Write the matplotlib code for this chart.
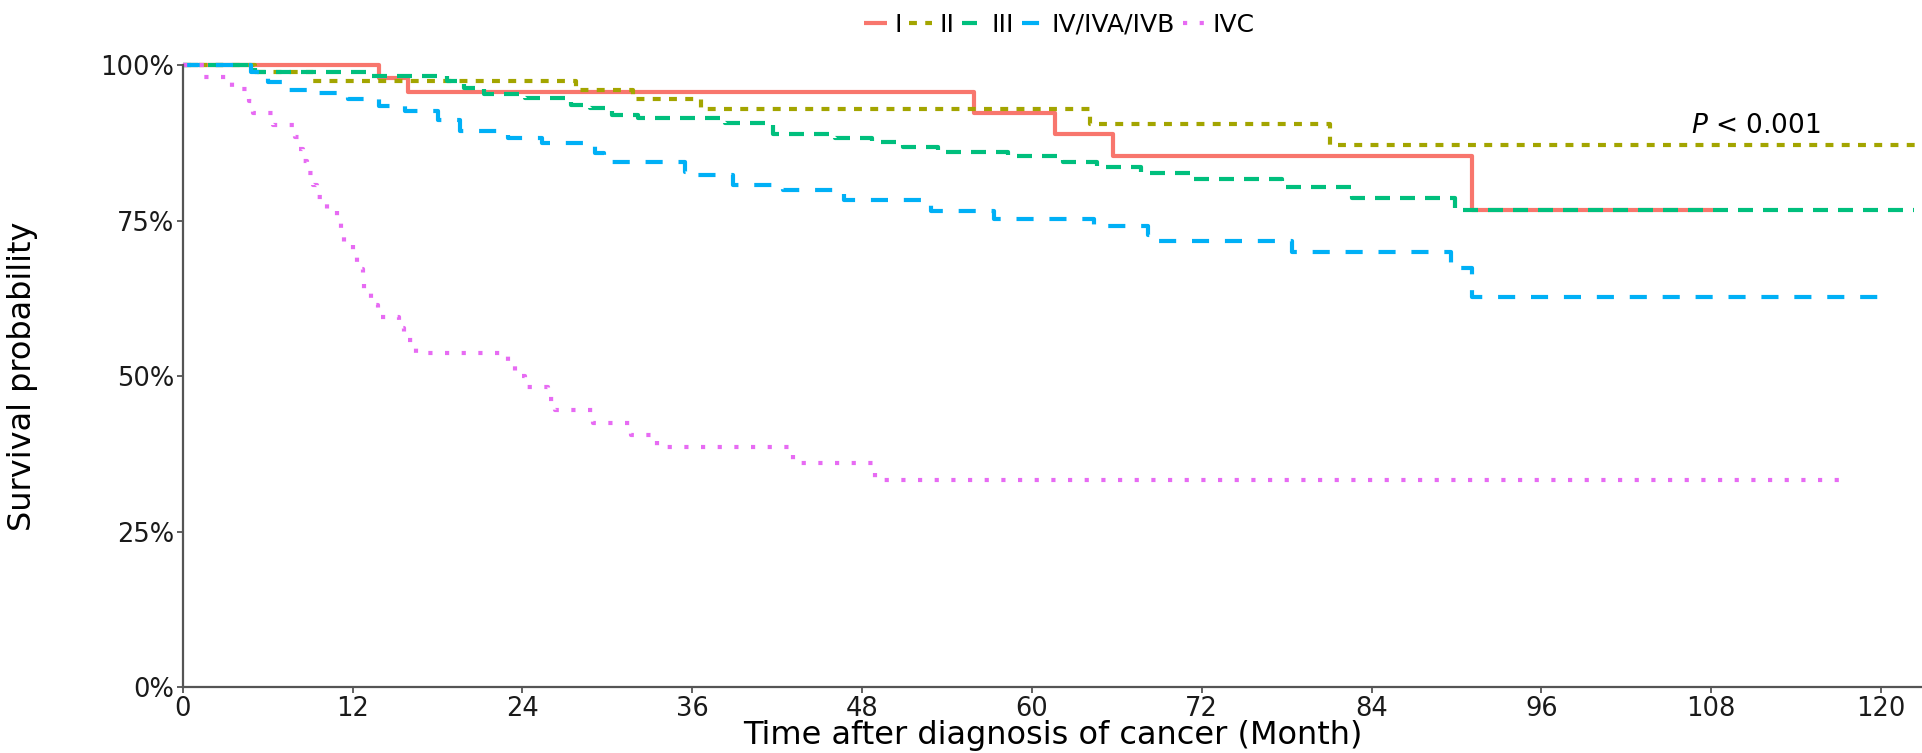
import matplotlib
matplotlib.use("Agg")
import matplotlib.pyplot as plt
from matplotlib.ticker import PercentFormatter


# Kaplan-Meier estimates by stage: event times (months) and survival after each step
stage_labels = ['I', 'II', 'III', 'IV/IVA/IVB', 'IVC']

t_I = [0, 13.9, 15.9, 55.9, 61.6, 65.7, 91.1]
s_I = [1.0, 0.979, 0.957, 0.924, 0.889, 0.854, 0.768]
end_I = 108.1

t_II = [0, 5.1, 9.2, 27.8, 31.8, 36.6, 64.1, 81.1]
s_II = [1.0, 0.990, 0.974, 0.961, 0.946, 0.930, 0.906, 0.872]
end_II = 122.9

t_III = [0, 5.1, 13.3, 18.7, 19.9, 21.3, 24.2, 27.4, 28.8, 30.3, 32.2, 38.3,
         41.7, 46.1, 48.7, 50.9, 53.4, 58.3, 62.2, 64.6, 67.7, 71.2, 77.7,
         82.6, 89.9]
s_III = [1.0, 0.989, 0.982, 0.974, 0.963, 0.954, 0.947, 0.936, 0.931, 0.920,
         0.915, 0.908, 0.890, 0.883, 0.876, 0.869, 0.861, 0.854, 0.845, 0.836,
         0.827, 0.817, 0.805, 0.787, 0.768]
end_III = 122.3

t_IV = [0, 4.8, 6.0, 7.4, 9.0, 11.7, 13.9, 15.7, 18.0, 19.6, 23.0, 25.4, 29.1,
        29.8, 35.5, 36.2, 38.9, 42.4, 46.7, 52.9, 57.3, 64.4, 68.2, 68.8, 78.4,
        89.6, 91.1]
s_IV = [1.0, 0.990, 0.973, 0.961, 0.956, 0.945, 0.934, 0.926, 0.912, 0.895,
        0.883, 0.875, 0.859, 0.844, 0.829, 0.823, 0.808, 0.800, 0.784, 0.765,
        0.753, 0.741, 0.727, 0.717, 0.700, 0.674, 0.628]
end_IV = 120.0

t_IVC = [0, 1.5, 3.5, 4.65, 4.95, 6.4, 7.9, 8.2, 8.5, 8.8, 9.2, 9.5, 10.2, 10.9,
         11.2, 11.4, 12.0, 12.3, 12.7, 12.8, 13.3, 13.8, 15.3, 15.6, 16.5, 23.0,
         23.5, 24.2, 25.8, 26.3, 29.0, 31.7, 33.5, 43.1, 48.9]
s_IVC = [1.0, 0.981, 0.962, 0.942, 0.923, 0.904, 0.885, 0.865, 0.846, 0.827,
         0.808, 0.788, 0.769, 0.750, 0.731, 0.712, 0.692, 0.673, 0.654, 0.635,
         0.615, 0.596, 0.577, 0.558, 0.538, 0.519, 0.500, 0.482, 0.464, 0.445,
         0.425, 0.406, 0.386, 0.360, 0.333]
end_IVC = 117.0

curves = [(t_I, s_I, end_I), (t_II, s_II, end_II), (t_III, s_III, end_III),
          (t_IV, s_IV, end_IV), (t_IVC, s_IVC, end_IVC)]
colors = ['#F8766D', '#A3A500', '#00BF7D', '#00B0F6', '#E76BF3']
# on/off lengths in units of line width
dashes = [None, (1.9, 2.0), (3.6, 2.4), (4.1, 3.8), (1.0, 3.0)]

fig = plt.figure(figsize=(19.22, 7.53), dpi=100)
ax = fig.add_axes([0.0951, 0.0873, 0.9049, 0.826])

for (t, s, end), col, dsh, lab in zip(curves, colors, dashes, stage_labels):
    line, = ax.step(t + [end], s + [s[-1]], where='post', color=col, lw=3.0,
                    label=lab, clip_on=False, solid_capstyle='butt',
                    dash_capstyle='butt')
    if dsh is not None:
        line.set_dashes(dsh)

ax.set_xlim(0, 122.9)
ax.set_ylim(0, 1.0)
ax.set_xticks(range(0, 121, 12))
ax.set_yticks([0, 0.25, 0.5, 0.75, 1.0])
ax.yaxis.set_major_formatter(PercentFormatter(xmax=1, decimals=0))

for side in ['top', 'right']:
    ax.spines[side].set_visible(False)
for side in ['left', 'bottom']:
    ax.spines[side].set_color('#555555')
    ax.spines[side].set_linewidth(1.6)
ax.tick_params(axis='both', labelsize=18.5, colors='#555555', labelcolor='#1a1a1a',
               width=1.3, length=4, pad=2)

ax.set_xlabel('Time after diagnosis of cancer (Month)', fontsize=23)
ax.set_ylabel('Survival probability', fontsize=23)
ax.xaxis.set_label_coords(0.5, -0.052)
ax.yaxis.set_label_coords(-0.083, 0.5)

ax.text(111.2, 0.903, r'$\it{P}$ < 0.001', fontsize=19, ha='center', va='center')

ax.legend(loc='center', bbox_to_anchor=(0.504, 1.065), ncol=5, frameon=False,
          fontsize=18, handlelength=0.9, handletextpad=0.3, columnspacing=0.3,
          borderpad=0)

fig.savefig('out.png', dpi=100)
